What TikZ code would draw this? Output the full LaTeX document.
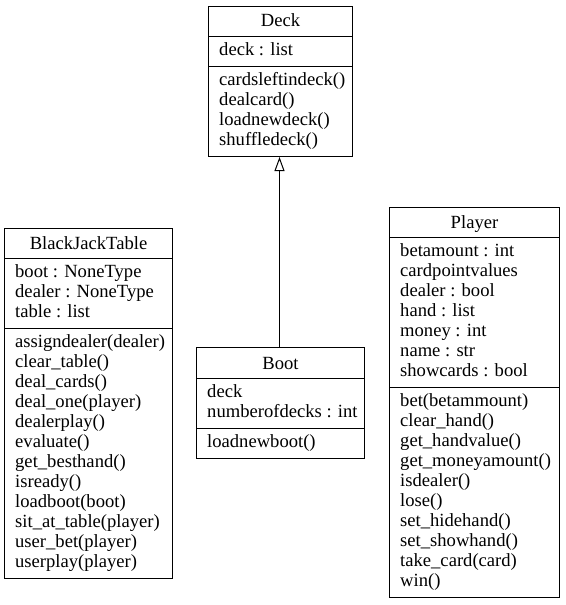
\documentclass[tikz,border=0pt]{standalone}
\usepackage{fontspec}
\setmainfont{Liberation Serif}
\usetikzlibrary{arrows.meta,calc}
\newcommand{\umlfont}{\fontsize{18.6}{20}\selectfont}
\tikzset{
  classbox/.style={draw, line width=1pt, inner sep=0pt, anchor=north west},
  titletxt/.style={anchor=base, inner sep=0pt, font=\umlfont},
  linetxt/.style={anchor=base west, inner sep=0pt, font=\umlfont},
  sepline/.style={line width=1pt},
  inherit/.style={line width=1pt, -{Triangle[open, length=14pt, width=10pt, line width=1pt]}}
}
\begin{document}
\begin{tikzpicture}[x=1pt, y=-1pt]
\useasboundingbox (0,0) rectangle (565,605);

% ---------- Deck ----------
\node[classbox, minimum width=144pt, minimum height=150pt] (deck) at (208,6) {};
\draw[sepline] ([yshift=-30pt]deck.north west) -- ([yshift=-30pt]deck.north east);
\draw[sepline] ([yshift=-60pt]deck.north west) -- ([yshift=-60pt]deck.north east);
\node[titletxt] (deckT) at ([yshift=-21pt]deck.north) {Deck};
\foreach \t [count=\i from 0] in {deck : list}
  \node[linetxt] (deckA\i) at ($(deck.north west)+(11,30+19.5+20*\i)$) {\t};
\foreach \t [count=\i from 0] in {cardsleftindeck(),dealcard(),loadnewdeck(),shuffledeck()}
  \node[linetxt] (deckM\i) at ($(deck.north west)+(11,60+19.5+20*\i)$) {\t};

% ---------- Boot ----------
\node[classbox, minimum width=168pt, minimum height=111pt] (boot) at (196,347) {};
\draw[sepline] ([yshift=-31pt]boot.north west) -- ([yshift=-31pt]boot.north east);
\draw[sepline] ([yshift=-81pt]boot.north west) -- ([yshift=-81pt]boot.north east);
\node[titletxt] (bootT) at ([yshift=-22pt]boot.north) {Boot};
\foreach \t [count=\i from 0] in {deck,numberofdecks : int}
  \node[linetxt] (bootA\i) at ($(boot.north west)+(11,31+19.5+20*\i)$) {\t};
\foreach \t [count=\i from 0] in {loadnewboot()}
  \node[linetxt] (bootM\i) at ($(boot.north west)+(11,81+19.5+20*\i)$) {\t};

% ---------- BlackJackTable ----------
\node[classbox, minimum width=168pt, minimum height=350pt] (bjt) at (4,228) {};
\draw[sepline] ([yshift=-30pt]bjt.north west) -- ([yshift=-30pt]bjt.north east);
\draw[sepline] ([yshift=-100pt]bjt.north west) -- ([yshift=-100pt]bjt.north east);
\node[titletxt] (bjtT) at ([yshift=-21pt]bjt.north) {BlackJackTable};
\foreach \t [count=\i from 0] in {boot : NoneType,dealer : NoneType,table : list}
  \node[linetxt] (bjtA\i) at ($(bjt.north west)+(11,30+19.5+20*\i)$) {\t};
\foreach \t [count=\i from 0] in {assigndealer(dealer),clear\_table(),deal\_cards(),deal\_one(player),dealerplay(),evaluate(),get\_besthand(),isready(),loadboot(boot),sit\_at\_table(player),user\_bet(player),userplay(player)}
  \node[linetxt] (bjtM\i) at ($(bjt.north west)+(11,100+19.5+20*\i)$) {\t};

% ---------- Player ----------
\node[classbox, minimum width=170pt, minimum height=390pt] (player) at (389,207) {};
\draw[sepline] ([yshift=-30pt]player.north west) -- ([yshift=-30pt]player.north east);
\draw[sepline] ([yshift=-180pt]player.north west) -- ([yshift=-180pt]player.north east);
\node[titletxt] (playerT) at ([yshift=-21pt]player.north) {Player};
\foreach \t [count=\i from 0] in {betamount : int,cardpointvalues,dealer : bool,hand : list,money : int,name : str,showcards : bool}
  \node[linetxt] (playerA\i) at ($(player.north west)+(11,30+19.5+20*\i)$) {\t};
\foreach \t [count=\i from 0] in {bet(betammount),clear\_hand(),get\_handvalue(),get\_moneyamount(),isdealer(),lose(),set\_hidehand(),set\_showhand(),take\_card(card),win()}
  \node[linetxt] (playerM\i) at ($(player.north west)+(11,180+19.5+20*\i)$) {\t};

% ---------- inheritance ----------
\draw[inherit] ([xshift=-1pt]boot.north) -- ([xshift=-1pt]boot.north |- deck.south);
\end{tikzpicture}
\end{document}
